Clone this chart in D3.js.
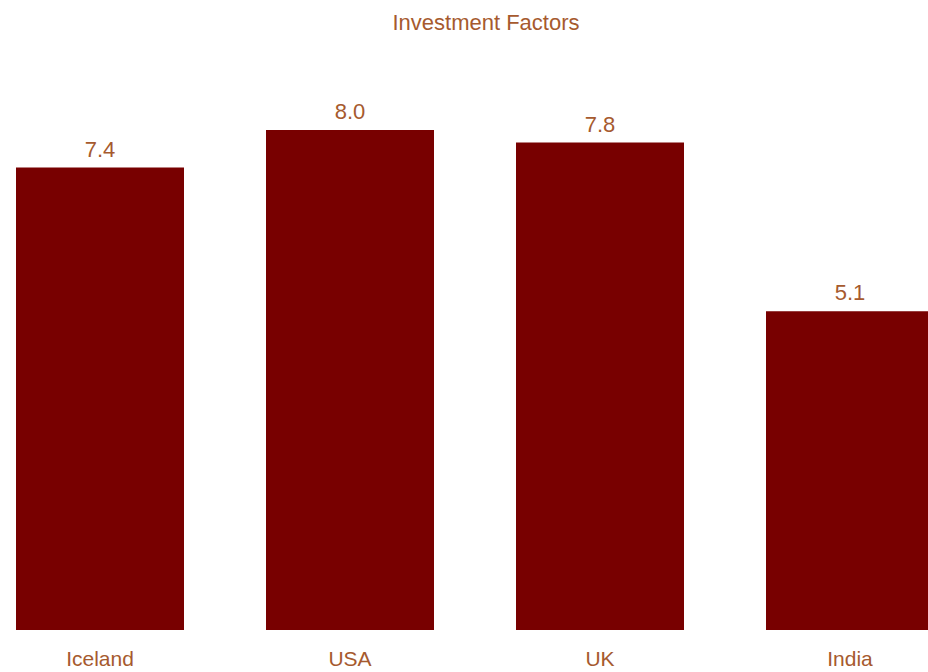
<!DOCTYPE html>
<html>
<head>
<meta charset="utf-8">
<script src="https://cdn.jsdelivr.net/npm/d3@7"></script>
<style>
  html, body { margin: 0; padding: 0; background: #ffffff; }
  svg { display: block; font-family: "Liberation Sans", Arial, sans-serif; }
</style>
</head>
<body>
<svg id="chart" width="928" height="672"></svg>
<script>
// Chart data
const countries = ["Iceland", "USA", "UK", "India"];
const scores = [7.4, 8.0, 7.8, 5.1];
const chartTitle = "Investment Factors";

const svg = d3.select("#chart");
const barColor = "#780000";
const textColor = "#a65a2e";

// Bars start at x=16 with a step of 250px and a width of 168px
const x = d3.scaleBand()
  .domain(countries)
  .range([16, 16 + 4 * 250 - 82])
  .paddingInner(82 / 250)
  .paddingOuter(0);

const y = d3.scaleLinear()
  .domain([0, 8])
  .range([630, 130]);

const data = countries.map((c, i) => ({ country: c, value: scores[i] }));

// Title
svg.append("text")
  .attr("x", 486)
  .attr("y", 30)
  .attr("text-anchor", "middle")
  .attr("font-size", 22)
  .attr("fill", textColor)
  .text(chartTitle);

// Bars
svg.append("g")
  .selectAll("rect")
  .data(data)
  .join("rect")
  .attr("x", d => x(d.country))
  .attr("y", d => y(d.value))
  .attr("width", x.bandwidth())
  .attr("height", d => y(0) - y(d.value))
  .attr("fill", barColor);

// Value labels above each bar
svg.append("g")
  .selectAll("text")
  .data(data)
  .join("text")
  .attr("x", d => x(d.country) + x.bandwidth() / 2)
  .attr("y", d => y(d.value) - 11)
  .attr("text-anchor", "middle")
  .attr("font-size", 22)
  .attr("fill", textColor)
  .text(d => d3.format(".1f")(d.value));

// Category axis labels
const xAxis = d3.axisBottom(x).tickSize(0).tickPadding(0);
const gx = svg.append("g")
  .attr("transform", `translate(0, ${y(0)})`)
  .call(xAxis);
gx.select(".domain").remove();
gx.selectAll("text")
  .attr("dy", null)
  .attr("y", 36)
  .attr("font-size", 21)
  .attr("font-family", "Liberation Sans, Arial, sans-serif")
  .attr("fill", textColor);
</script>
</body>
</html>
